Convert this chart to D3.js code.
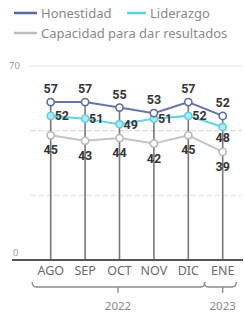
<!DOCTYPE html>
<html><head><meta charset="utf-8">
<script src="https://cdn.jsdelivr.net/npm/d3@7"></script>
<style>html,body{margin:0;padding:0;background:#fff;}svg{display:block;}</style>
</head><body>
<svg id="c" width="245" height="313"></svg>
<script>
const months = ["AGO","SEP","OCT","NOV","DIC","ENE"];
const honestidad = [57,57,55,53,57,52];
const liderazgo = [52,51,49,51,52,48];
const capacidad = [45,43,44,42,45,39];
const yTicks = [0,70];
const gridValues = [70/3, 140/3, 70];
const years = [{label:"2022", from:"AGO", to:"DIC"},{label:"2023", from:"ENE", to:"ENE"}];

const svg = d3.select("#c");
const x = d3.scalePoint().domain(months).range([50.7, 222.7]);
const y = d3.scaleLinear().domain([0,70]).range([260, 66]);

// gridlines
svg.append("g").selectAll("line").data(gridValues).join("line")
  .attr("x1",30).attr("x2",242)
  .attr("y1",d=>y(d)).attr("y2",d=>y(d))
  .attr("stroke",(d,i)=> i===1 ? "#f1d6d6" : "#e4e4e4")
  .attr("stroke-width",1.2)
  .attr("stroke-dasharray",(d,i)=> i===2 ? null : "6,2");

// y tick labels
svg.append("g").selectAll("text").data(yTicks).join("text")
  .attr("x",d=> d===0 ? 13 : 9).attr("y",d=>y(d)-(d===0?4:-3))
  .attr("font-family","Noto Sans").attr("font-size",9.5).attr("fill","#9a9a9a")
  .text(d=>d);

// vertical drop lines
svg.append("g").selectAll("line").data(months).join("line")
  .attr("x1",d=>x(d)).attr("x2",d=>x(d))
  .attr("y1",(d,i)=>y(honestidad[i])).attr("y2",y(0))
  .attr("stroke","#777").attr("stroke-width",1.6);

// baseline
svg.append("line").attr("x1",12).attr("x2",243).attr("y1",y(0)).attr("y2",y(0))
  .attr("stroke","#555").attr("stroke-width",2);

const series = [
  {name:"Capacidad", vals:capacidad, line:"#c4c4c4", stroke:"#b8b8b8", fill:"#fff"},
  {name:"Liderazgo", vals:liderazgo, line:"#66d3e3", stroke:"#5fcfe0", fill:"#aee8f0"},
  {name:"Honestidad", vals:honestidad, line:"#6575a8", stroke:"#5b6b9e", fill:"#fff"}
];
const lineGen = d3.line().x((d,i)=>x(months[i])).y(d=>y(d));
series.forEach(s=>{
  svg.append("path").datum(s.vals).attr("d",lineGen)
    .attr("fill","none").attr("stroke",s.line).attr("stroke-width",2);
});
series.forEach(s=>{
  svg.append("g").selectAll("circle").data(s.vals).join("circle")
    .attr("cx",(d,i)=>x(months[i])).attr("cy",d=>y(d)).attr("r",3.6)
    .attr("fill",s.fill).attr("stroke",s.stroke).attr("stroke-width",1.6);
});

// value labels
const lab = svg.append("g").attr("font-family","Roboto").attr("font-weight","bold")
  .attr("font-size",12.5).attr("fill","#353535");
lab.selectAll(".h").data(honestidad).join("text")
  .attr("x",(d,i)=>x(months[i])).attr("y",d=>y(d)-9)
  .attr("text-anchor","middle").text(d=>d);
lab.selectAll(".l").data(liderazgo).join("text")
  .attr("x",(d,i)=> i===months.length-1 ? x(months[i]) : x(months[i])+4)
  .attr("y",(d,i)=> i===months.length-1 ? y(d)+15.5 : y(d)+4.5)
  .attr("text-anchor",(d,i)=> i===months.length-1 ? "middle" : "start").text(d=>d);
lab.selectAll(".c").data(capacidad).join("text")
  .attr("x",(d,i)=>x(months[i])).attr("y",d=>y(d)+19)
  .attr("text-anchor","middle").text(d=>d);

// month labels
svg.append("g").selectAll("text").data(months).join("text")
  .attr("x",d=>x(d)).attr("y",275)
  .attr("text-anchor","middle").attr("font-family","Noto Sans").attr("font-size",12.5)
  .attr("fill","#6a6a6a").text(d=>d);

// year brackets
const by = 287;
years.forEach(yr=>{
  const x0 = x(yr.from)-18.5, x1 = x(yr.to)+(yr.label==="2022"?16.5:13.5);
  const cx = yr.label==="2022" ? 118 : x(yr.from);
  svg.append("path")
    .attr("d",`M${x0},${by-5} Q${x0},${by} ${x0+4},${by} L${x1-4},${by} Q${x1},${by} ${x1},${by-5}`)
    .attr("fill","none").attr("stroke","#8a8a8a").attr("stroke-width",1.3);
  svg.append("line").attr("x1",cx).attr("x2",cx).attr("y1",by).attr("y2",by+6)
    .attr("stroke","#8a8a8a").attr("stroke-width",1.3);
  svg.append("text").attr("x",cx).attr("y",310).attr("text-anchor","middle")
    .attr("font-family","Noto Sans").attr("font-size",11.5).attr("fill","#8a8a8a").text(yr.label);
});

// legend
const legend = [
  {label:"Honestidad", color:"#5b6b9e", lx:14, ly:13},
  {label:"Liderazgo", color:"#5fcfe0", lx:127, ly:13},
  {label:"Capacidad para dar resultados", color:"#bdbdbd", lx:14, ly:33}
];
const lg = svg.append("g").selectAll("g").data(legend).join("g");
lg.append("line").attr("x1",d=>d.lx).attr("x2",d=>d.lx+(d.label==="Liderazgo"?19:23))
  .attr("y1",d=>d.ly).attr("y2",d=>d.ly).attr("stroke",d=>d.color).attr("stroke-width",2.5);
lg.append("text").attr("x",d=>d.lx+(d.label==="Liderazgo"?23:27)).attr("y",d=>d.ly+4.5)
  .attr("font-family","Noto Sans").attr("font-size",13).attr("fill","#8a8a8a").text(d=>d.label);
</script>
</body></html>
